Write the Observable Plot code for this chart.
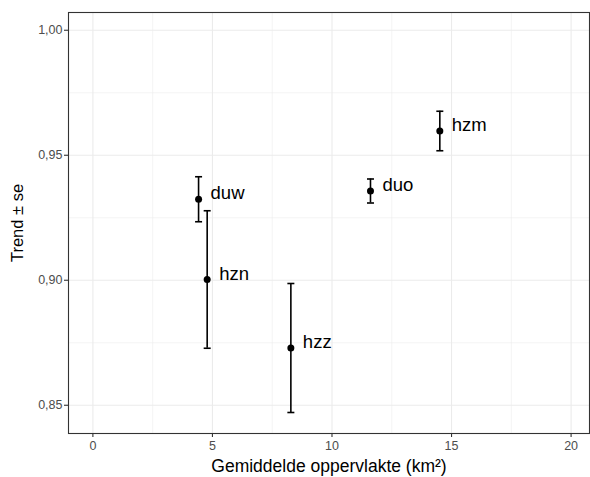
<!DOCTYPE html>
<html>
<head>
<meta charset="utf-8">
<script src="https://cdn.jsdelivr.net/npm/d3@7"></script>
<script src="https://cdn.jsdelivr.net/npm/@observablehq/plot@0.6"></script>
<style>
  html, body { margin: 0; padding: 0; background: #fff; }
  svg { display: block; }
</style>
</head>
<body>
<div id="chart"></div>
<script>
const labels = ["duw", "hzn", "hzz", "duo", "hzm"];
const area   = [4.42, 4.78, 8.28, 11.61, 14.51];
const trend  = [0.9324, 0.9003, 0.8729, 0.9357, 0.9597];
const se     = [0.0090, 0.0275, 0.0258, 0.0048, 0.0079];

const xMajor = [0, 5, 10, 15, 20];
const xMinor = [2.5, 7.5, 12.5, 17.5];
const yMajor = [0.85, 0.90, 0.95, 1.00];
const yMinor = [0.875, 0.925, 0.975];

const rows = labels.map((l, i) => ({
  label: l, x: area[i], y: trend[i], lo: trend[i] - se[i], hi: trend[i] + se[i]
}));

const cap = {
  draw(context, size) {
    const r = Math.sqrt(size / Math.PI);
    context.moveTo(-r, 0);
    context.lineTo(r, 0);
  }
};

const fmtY = d => d.toFixed(2).replace(".", ",");

const chart = Plot.plot({
  width: 590,
  height: 477,
  marginLeft: 68,
  marginRight: 1,
  marginTop: 12,
  marginBottom: 44,
  style: { fontFamily: "'Liberation Sans', Arial, sans-serif", background: "#fff" },
  x: { domain: [-1.02, 20.77] },
  y: { domain: [0.8387, 1.0071] },
  marks: [
    Plot.ruleY(yMinor, { stroke: "#ebebeb", strokeWidth: 0.55 }),
    Plot.ruleX(xMinor, { stroke: "#ebebeb", strokeWidth: 0.55 }),
    Plot.ruleY(yMajor, { stroke: "#ebebeb", strokeWidth: 1.1 }),
    Plot.ruleX(xMajor, { stroke: "#ebebeb", strokeWidth: 1.1 }),
    Plot.frame({ stroke: "#333333", strokeWidth: 1.1 }),
    // tick marks
    Plot.axisY(yMajor, { tickSize: 4, tickFormat: () => "", label: null, stroke: "#333333", strokeWidth: 1.1 }),
    Plot.axisX(xMajor, { tickSize: 4, tickFormat: () => "", label: null, stroke: "#333333", strokeWidth: 1.1 }),
    // tick labels
    Plot.axisY(yMajor, { tickSize: 0, tickPadding: 6, tickFormat: fmtY, label: null, fill: "#4d4d4d", fontSize: 12.5 }),
    Plot.axisX(xMajor, { tickSize: 0, tickPadding: 8, tickFormat: d => String(d), label: null, fill: "#4d4d4d", fontSize: 12.5 }),
    // axis titles
    Plot.axisY({ ticks: [], label: "Trend ± se", labelAnchor: "center", labelArrow: "none", labelOffset: 57, fill: "black", fontSize: 16.5 }),
    Plot.axisX({ ticks: [], label: "Gemiddelde oppervlakte (km²)", labelAnchor: "center", labelArrow: "none", labelOffset: 38, fill: "black", fontSize: 17.5 }),
    // error bars
    Plot.ruleX(rows, { x: "x", y1: "lo", y2: "hi", stroke: "black", strokeWidth: 1.6 }),
    Plot.dot(rows, { x: "x", y: "lo", symbol: cap, r: 3.5, stroke: "black", strokeWidth: 1.6, fill: "none" }),
    Plot.dot(rows, { x: "x", y: "hi", symbol: cap, r: 3.5, stroke: "black", strokeWidth: 1.6, fill: "none" }),
    Plot.dot(rows, { x: "x", y: "y", r: 3.5, fill: "black", stroke: "none" }),
    Plot.text(rows, { x: "x", y: "y", text: "label", textAnchor: "start", lineAnchor: "bottom", dx: 12, fontSize: 18.5, fill: "black" })
  ]
});
document.getElementById("chart").appendChild(chart);
</script>
</body>
</html>
